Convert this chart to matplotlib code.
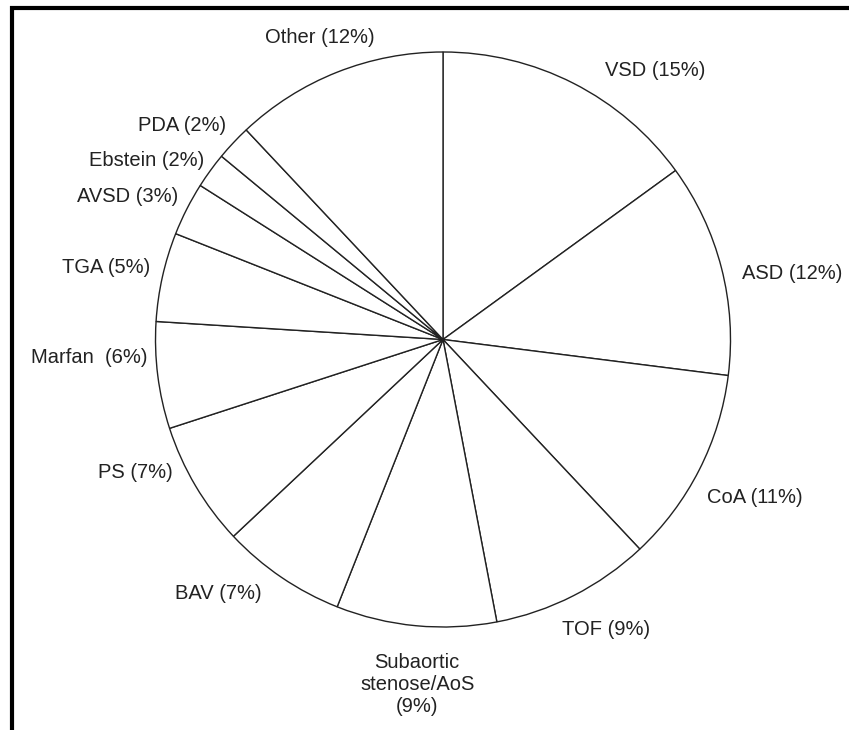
import matplotlib
matplotlib.use("Agg")
import matplotlib.pyplot as plt
from matplotlib.lines import Line2D

# Distribution of congenital heart defects (%)
categories = ["VSD", "ASD", "CoA", "TOF", "Subaortic\nstenose/AoS", "BAV", "PS",
              "Marfan ", "TGA", "AVSD", "Ebstein", "PDA", "Other"]
shares = [15, 12, 11, 9, 9, 7, 7, 6, 5, 3, 2, 2, 12]

# Label anchor points in pie-radius units (centre of the pie = 0, 0)
label_xy = [(0.737, 0.937), (1.214, 0.231), (1.085, -0.548), (0.567, -1.010),
            (-0.090, -1.200), (-0.783, -0.885), (-1.071, -0.461), (-1.231, -0.061),
            (-1.172, 0.252), (-1.096, 0.496), (-1.030, 0.624), (-0.908, 0.746),
            (-0.428, 1.049)]

W, H, DPI = 849, 730, 100
cx, cy, r = 443, 339.5, 287.5   # pie centre and radius in pixels

fig = plt.figure(figsize=(W / DPI, H / DPI), dpi=DPI)
fig.patch.set_facecolor("white")
ax = fig.add_axes([0, 0, 1, 1])

ax.pie(shares, startangle=90, counterclock=False, radius=1.0,
       colors=["white"] * len(shares),
       wedgeprops=dict(edgecolor="#222222", linewidth=1.0))

for name, val, (x, y) in zip(categories, shares, label_xy):
    sep = "\n" if "\n" in name else " "
    ax.text(x, y, f"{name}{sep}({val}%)", ha="center", va="center",
            fontsize=14.5, family="Liberation Sans", color="#222222",
            multialignment="center")

ax.set_xlim(-cx / r, (W - cx) / r)
ax.set_ylim(-(H - cy) / r, cy / r)
ax.set_aspect("equal", adjustable="box")
ax.axis("off")

# Frame lines along the top and left edges
fig.add_artist(Line2D([10 / W, 1.0], [1 - 8 / H, 1 - 8 / H], transform=fig.transFigure,
                      color="black", linewidth=3.0, solid_capstyle="butt"))
fig.add_artist(Line2D([12 / W, 12 / W], [0.0, 1 - 6 / H], transform=fig.transFigure,
                      color="black", linewidth=3.0, solid_capstyle="butt"))

fig.savefig("out.png", dpi=DPI, facecolor="white")
